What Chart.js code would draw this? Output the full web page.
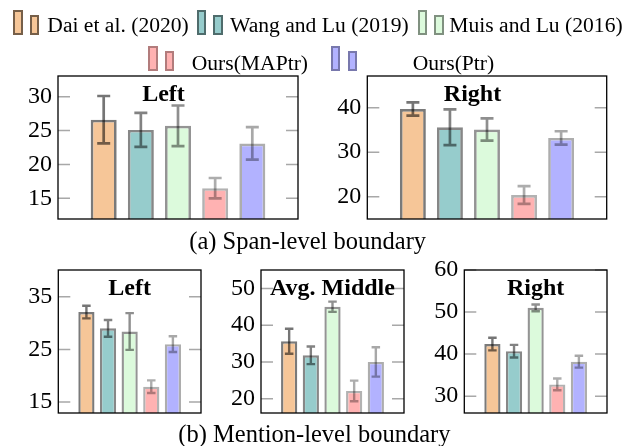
<!DOCTYPE html>
<html><head><meta charset="utf-8">
<script src="https://cdn.jsdelivr.net/npm/chart.js@4"></script>
<style>
html,body{margin:0;padding:0;background:#fff;}
#wrap{position:relative;width:636px;height:446px;overflow:hidden;font-family:"Liberation Serif","Times New Roman",serif;color:#000;}
canvas{position:absolute;left:0;top:0;}
.lg{position:absolute;font-size:21.6px;line-height:21.6px;white-space:nowrap;}
.mk{position:absolute;box-sizing:border-box;border-style:solid;border-width:2px;}
.cap{position:absolute;font-size:24.5px;line-height:24.5px;white-space:nowrap;}
</style></head><body><div id="wrap"></div>
<script>
// ---- data ----
const methods = ["Dai et al. (2020)", "Wang and Lu (2019)", "Muis and Lu (2016)", "Ours(MAPtr)", "Ours(Ptr)"];
const spanLeft = [26.6, 25.1, 25.7, 16.5, 23.1];
const spanLeftErr = [3.5, 2.5, 3.0, 1.5, 2.4];
const spanRight = [39.7, 35.6, 35.1, 20.4, 33.2];
const spanRightErr = [1.5, 4.0, 2.5, 2.0, 1.5];
const mentionLeft = [32.1, 29.0, 28.4, 17.9, 26.0];
const mentionLeftErr = [1.2, 1.6, 3.5, 1.2, 1.5];
const mentionMiddle = [35.6, 31.8, 45.0, 22.1, 30.0];
const mentionMiddleErr = [3.4, 2.4, 1.4, 2.8, 4.0];
const mentionRight = [42.4, 40.7, 51.0, 32.8, 38.2];
const mentionRightErr = [1.5, 1.5, 0.8, 1.4, 1.4];
const ticksSpanLeft = [15, 20, 25, 30];
const ticksSpanRight = [20, 30, 40];
const ticksMentionLeft = [15, 25, 35];
const ticksMentionMiddle = [20, 30, 40, 50];
const ticksMentionRight = [30, 40, 50, 60];
const panelTitles = ["Left", "Right", "Left", "Avg. Middle", "Right"];
const captions = ["(a) Span-level boundary", "(b) Mention-level boundary"];

// ---- styles ----
const fills = ['#F6C698', '#96CCCC', '#DCFADC', '#FFB2B2', '#B2B2FF'];
const edgeAlpha = [0.52, 0.47, 0.42, 0.3, 0.32];
const edges = edgeAlpha.map(a => 'rgba(0,0,0,' + a + ')');
const errColors = edgeAlpha.map(a => 'rgba(0,0,0,' + (a + 0.02) + ')');

const panels = [
  {vals: spanLeft, errs: spanLeftErr, ticks: ticksSpanLeft, title: panelTitles[0], box: [58, 76, 298, 219], yMin: 11.95, yMax: 33.05, xHalf: 3.23, barPct: 0.70, bw: 2.7, errW: 2.7, capW: 13, titleDx: -14.5},
  {vals: spanRight, errs: spanRightErr, ticks: ticksSpanRight, title: panelTitles[1], box: [367.3, 76, 606.7, 219], yMin: 15, yMax: 47.1, xHalf: 3.23, barPct: 0.70, bw: 2.7, errW: 2.7, capW: 13, titleDx: -14.5},
  {vals: mentionLeft, errs: mentionLeftErr, ticks: ticksMentionLeft, title: panelTitles[2], box: [58.3, 270, 201, 413], yMin: 12.9, yMax: 40.1, xHalf: 3.3, barPct: 0.75, bw: 2.4, errW: 2.4, capW: 8.5, titleDx: 0},
  {vals: mentionMiddle, errs: mentionMiddleErr, ticks: ticksMentionMiddle, title: panelTitles[3], box: [261, 270, 404, 413], yMin: 16.1, yMax: 55, xHalf: 3.3, barPct: 0.75, bw: 2.4, errW: 2.4, capW: 8.5, titleDx: 0},
  {vals: mentionRight, errs: mentionRightErr, ticks: ticksMentionRight, title: panelTitles[4], box: [464.3, 270, 607, 413], yMin: 26, yMax: 60, xHalf: 3.3, barPct: 0.75, bw: 2.4, errW: 2.4, capW: 8.5, titleDx: 0}
];

const wrap = document.getElementById('wrap');
const AXW = 50;

function panelPlugin(p, k) {
  return {
    id: 'panel' + k,
    afterDatasetsDraw(chart) {
      const ctx = chart.ctx, xs = chart.scales.x, ys = chart.scales.y;
      ctx.save();
      p.vals.forEach((v, i) => {
        const x = xs.getPixelForValue(i);
        const yt = ys.getPixelForValue(v + p.errs[i]);
        const yb = ys.getPixelForValue(v - p.errs[i]);
        ctx.strokeStyle = errColors[i];
        ctx.lineWidth = p.errW;
        ctx.beginPath();
        ctx.moveTo(x, yt); ctx.lineTo(x, yb);
        ctx.moveTo(x - p.capW / 2, yt); ctx.lineTo(x + p.capW / 2, yt);
        ctx.moveTo(x - p.capW / 2, yb); ctx.lineTo(x + p.capW / 2, yb);
        ctx.stroke();
      });
      ctx.restore();
    },
    afterDraw(chart) {
      const ctx = chart.ctx, a = chart.chartArea, ys = chart.scales.y;
      ctx.save();
      // inner ticks
      ctx.strokeStyle = '#a8a8a8';
      ctx.lineWidth = 1.5;
      ys.ticks.forEach(t => {
        const y = ys.getPixelForValue(t.value);
        ctx.beginPath();
        ctx.moveTo(a.left, y); ctx.lineTo(a.left + 12, y);
        ctx.moveTo(a.right - 12, y); ctx.lineTo(a.right, y);
        ctx.stroke();
      });
      // box
      ctx.strokeStyle = '#000';
      ctx.lineWidth = 1.3;
      ctx.strokeRect(a.left, a.top, a.right - a.left, a.bottom - a.top);
      // title
      ctx.fillStyle = '#000';
      ctx.font = 'bold 24px "Liberation Serif", serif';
      ctx.textAlign = 'center';
      ctx.textBaseline = 'alphabetic';
      ctx.fillText(p.title, (a.left + a.right) / 2 + p.titleDx, a.top + 24.5);
      ctx.restore();
    }
  };
}

panels.forEach((p, k) => {
  const c = document.createElement('canvas');
  c.width = 636; c.height = 446;
  c.style.width = '636px'; c.style.height = '446px';
  wrap.appendChild(c);
  new Chart(c.getContext('2d'), {
    type: 'bar',
    data: {
      datasets: [{
        data: p.vals.map((v, i) => ({x: i, y: v})),
        backgroundColor: fills,
        borderColor: edges,
        borderWidth: p.bw,
        barPercentage: p.barPct,
        categoryPercentage: 1
      }]
    },
    options: {
      responsive: false, animation: false, devicePixelRatio: 1,
      layout: {padding: {left: p.box[0] - AXW, top: p.box[1], right: 636 - p.box[2], bottom: 446 - p.box[3]}},
      plugins: {legend: {display: false}, tooltip: {enabled: false}, title: {display: false}},
      scales: {
        x: {type: 'linear', display: false, min: 2 - p.xHalf, max: 2 + p.xHalf, offset: false, grid: {offset: false}},
        y: {
          type: 'linear', min: p.yMin, max: p.yMax,
          afterBuildTicks: s => { s.ticks = p.ticks.map(v => ({value: v})); },
          afterFit: s => { s.width = AXW; s.paddingTop = 0; s.paddingBottom = 0; },
          ticks: {font: {family: '"Liberation Serif", serif', size: 24}, color: '#000', padding: 6},
          grid: {display: false, drawTicks: false},
          border: {display: false}
        }
      }
    },
    plugins: [panelPlugin(p, k)]
  });
});

// ---- legend (HTML) ----
const legendPos = [
  {row: 0, mA: 13.3, mB: 30, tx: 47.3},
  {row: 0, mA: 196.7, mB: 213.3, tx: 230},
  {row: 0, mA: 417.7, mB: 434.3, tx: 449.3},
  {row: 1, mA: 148.3, mB: 165, tx: 191.7},
  {row: 1, mA: 331, mB: 347.7, tx: 412.7}
];
const rowBottom = [35, 70.5];
const rowTextTop = [15.2, 53];
methods.forEach((m, i) => {
  const lp = legendPos[i];
  [[lp.mA, 25], [lp.mB, 20]].forEach(([x, h]) => {
    const d = document.createElement('div');
    d.className = 'mk';
    d.style.left = x + 'px';
    d.style.top = (rowBottom[lp.row] - h) + 'px';
    d.style.width = '9.3px';
    d.style.height = h + 'px';
    d.style.background = fills[i];
    d.style.borderColor = edges[i];
    wrap.appendChild(d);
  });
  const t = document.createElement('div');
  t.className = 'lg';
  t.style.left = lp.tx + 'px';
  t.style.top = rowTextTop[lp.row] + 'px';
  t.textContent = m;
  wrap.appendChild(t);
});

// ---- captions ----
[[189.3, 228.5], [178.3, 421.5]].forEach(([x, y], i) => {
  const d = document.createElement('div');
  d.className = 'cap';
  d.style.left = x + 'px';
  d.style.top = y + 'px';
  d.textContent = captions[i];
  wrap.appendChild(d);
});
</script>
</body></html>
